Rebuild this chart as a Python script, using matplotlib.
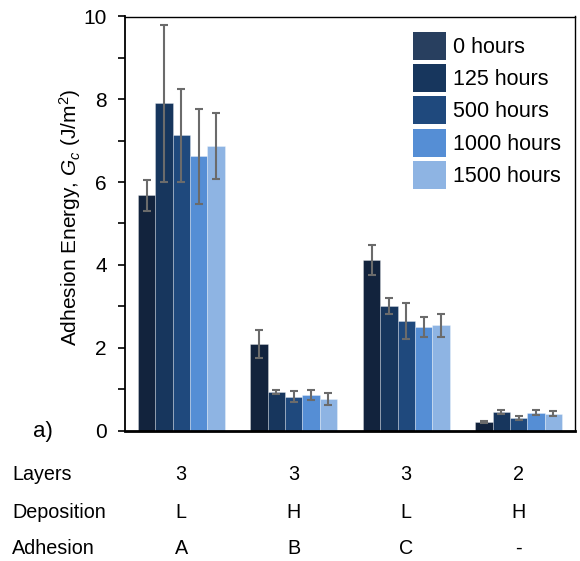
import numpy as np
import matplotlib
matplotlib.use('Agg')
import matplotlib.pyplot as plt
from matplotlib.patches import Patch

plt.rcParams['font.family'] = ['Liberation Sans', 'DejaVu Sans']
plt.rcParams['mathtext.fontset'] = 'custom'
plt.rcParams['mathtext.it'] = 'Liberation Sans:italic'
plt.rcParams['mathtext.rm'] = 'Liberation Sans'

# ── Data ──────────────────────────────────────────────────────────────
series = ['0 hours', '125 hours', '500 hours', '1000 hours', '1500 hours']
g0 = [5.68, 7.90, 7.13, 6.62, 6.88]
g1 = [2.09, 0.92, 0.82, 0.85, 0.76]
g2 = [4.12, 3.00, 2.64, 2.51, 2.54]
g3 = [0.20, 0.44, 0.31, 0.43, 0.40]
e0 = [0.37, 1.90, 1.12, 1.14, 0.80]
e1 = [0.34, 0.05, 0.14, 0.12, 0.15]
e2 = [0.37, 0.19, 0.43, 0.24, 0.28]
e3 = [0.02, 0.05, 0.045, 0.055, 0.06]

table_rows = ['Layers', 'Deposition', 'Adhesion']
layers = ['3', '3', '3', '2']
deposition = ['L', 'H', 'L', 'H']
adhesion = ['A', 'B', 'C', '-']

bar_colors = ['#12233d', '#17365d', '#1f497d', '#558ed5', '#8eb4e3']
legend_colors = ['#283f5f', '#17365d', '#1f497d', '#558ed5', '#8eb4e3']

vals = np.array([g0, g1, g2, g3])
errs = np.array([e0, e1, e2, e3])

fig = plt.figure(figsize=(5.8, 5.61), dpi=100)
ax = fig.add_axes([125 / 580, 1 - 430.5 / 561, 450 / 580, 414 / 561])

width = 0.154
x = np.arange(4)
for i in range(5):
    pos = x + (i - 2) * width
    ax.bar(pos, vals[:, i], width=width, color=bar_colors[i],
           edgecolor=(1, 1, 1, 0.35), linewidth=0.6, zorder=2)
    ax.errorbar(pos, vals[:, i], yerr=errs[:, i], fmt='none',
                ecolor='#6b6b6b', elinewidth=1.5, capsize=3,
                capthick=1.5, zorder=3)

ax.set_xlim(-0.5, 3.5)
ax.set_ylim(0, 10)
ax.set_xticks([])
ax.set_yticks(range(11))
ax.set_yticklabels([str(v) if v % 2 == 0 else '' for v in range(11)],
                   fontsize=15)
ax.tick_params(axis='y', direction='out', length=5, width=1.2, pad=8)
for side, lw in [('left', 1.3), ('bottom', 2.0), ('top', 1.0), ('right', 1.0)]:
    ax.spines[side].set_linewidth(lw)

ax.set_ylabel('Adhesion Energy, $G_c$ (J/m$^2$)', fontsize=15)
ax.yaxis.set_label_coords(-0.093, 0.516)

handles = [Patch(facecolor=c, edgecolor='none') for c in legend_colors]
ax.legend(handles, series, loc='upper left',
          bbox_to_anchor=((413 - 125) / 450, (430.5 - 32) / 414),
          frameon=False, fontsize=15.5, handlelength=1.53, handleheight=1.63,
          labelspacing=0.19, handletextpad=0.35, borderpad=0,
          borderaxespad=0)

# ── Table under the chart ─────────────────────────────────────────────
row_y = [475, 512, 548]
for r, (name, cells) in enumerate(zip(table_rows,
                                      [layers, deposition, adhesion])):
    fy = 1 - row_y[r] / 561
    fig.text(12 / 580, fy, name, fontsize=14.2, ha='left', va='center')
    for gx, txt in zip(x, cells):
        # column centred under each bar group
        fig.text(ax.transData.transform((gx, 0))[0] / fig.bbox.width, fy,
                 txt, fontsize=14.2, ha='center', va='center')

fig.text(33 / 580, 1 - 432 / 561, 'a)', fontsize=16, ha='left',
         va='center')

fig.savefig('out.png', dpi=100)
